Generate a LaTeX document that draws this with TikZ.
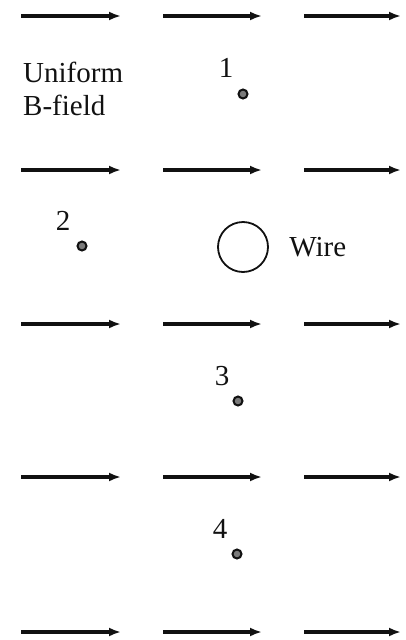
\documentclass[tikz,border=0pt]{standalone}
\usepackage{fontspec}
\setmainfont{Liberation Serif}
\usetikzlibrary{arrows.meta,positioning}
\definecolor{Ink}{HTML}{111111}
\definecolor{DotFill}{HTML}{7A7A7A}
\tikzset{fieldarrow/.style={-{Latex[length=12pt,width=9pt]},line width=3.2pt,draw=Ink},
  point/.style={circle,draw=Ink,fill=DotFill,line width=2pt,minimum size=9pt,inner sep=0pt},
  ptlabel/.style={anchor=base,font=\fontsize{29}{33}\selectfont,text=Ink,inner sep=0pt},
  wirebox/.style={circle,draw=Ink,line width=1.8pt,minimum size=50pt,inner sep=0pt},
  txt/.style={font=\fontsize{29}{33}\selectfont,text=Ink,align=left}}

\begin{document}
\begin{tikzpicture}[x=1pt,y=-1pt]
    \useasboundingbox (0,0) rectangle (406,640);
    % field arrows
    \foreach \r/\y in {1/16,2/170,3/324,4/477,5/632}
      \foreach \c/\xa/\xb in {1/21/121,2/163/262,3/304/401} {
        \coordinate (a\r\c) at (\xa,\y); \coordinate (b\r\c) at (\xb,\y);
        \draw[fieldarrow] (a\r\c)--(b\r\c);
      }
    \node[txt,anchor=base west,inner sep=0pt] (bfield) at (23,115) {Uniform\\B-field};
    % test points
    \node[point] (p1) at (243,94) {};
    \node[point] (p2) at (82,246) {};
    \node[point] (p3) at (238,401) {};
    \node[point] (p4) at (237,554) {};
    \node[ptlabel] (l1) at ([shift={(-17,-17)}]p1) {1};
    \node[ptlabel] (l2) at ([shift={(-19,-16)}]p2) {2};
    \node[ptlabel] (l3) at ([shift={(-16,-16)}]p3) {3};
    \node[ptlabel] (l4) at ([shift={(-17,-16)}]p4) {4};
    \node[wirebox] (wire) at (243,247) {};
    \node[txt,right=17pt of wire] (wirelbl) {Wire};
  \end{tikzpicture}
\end{document}
